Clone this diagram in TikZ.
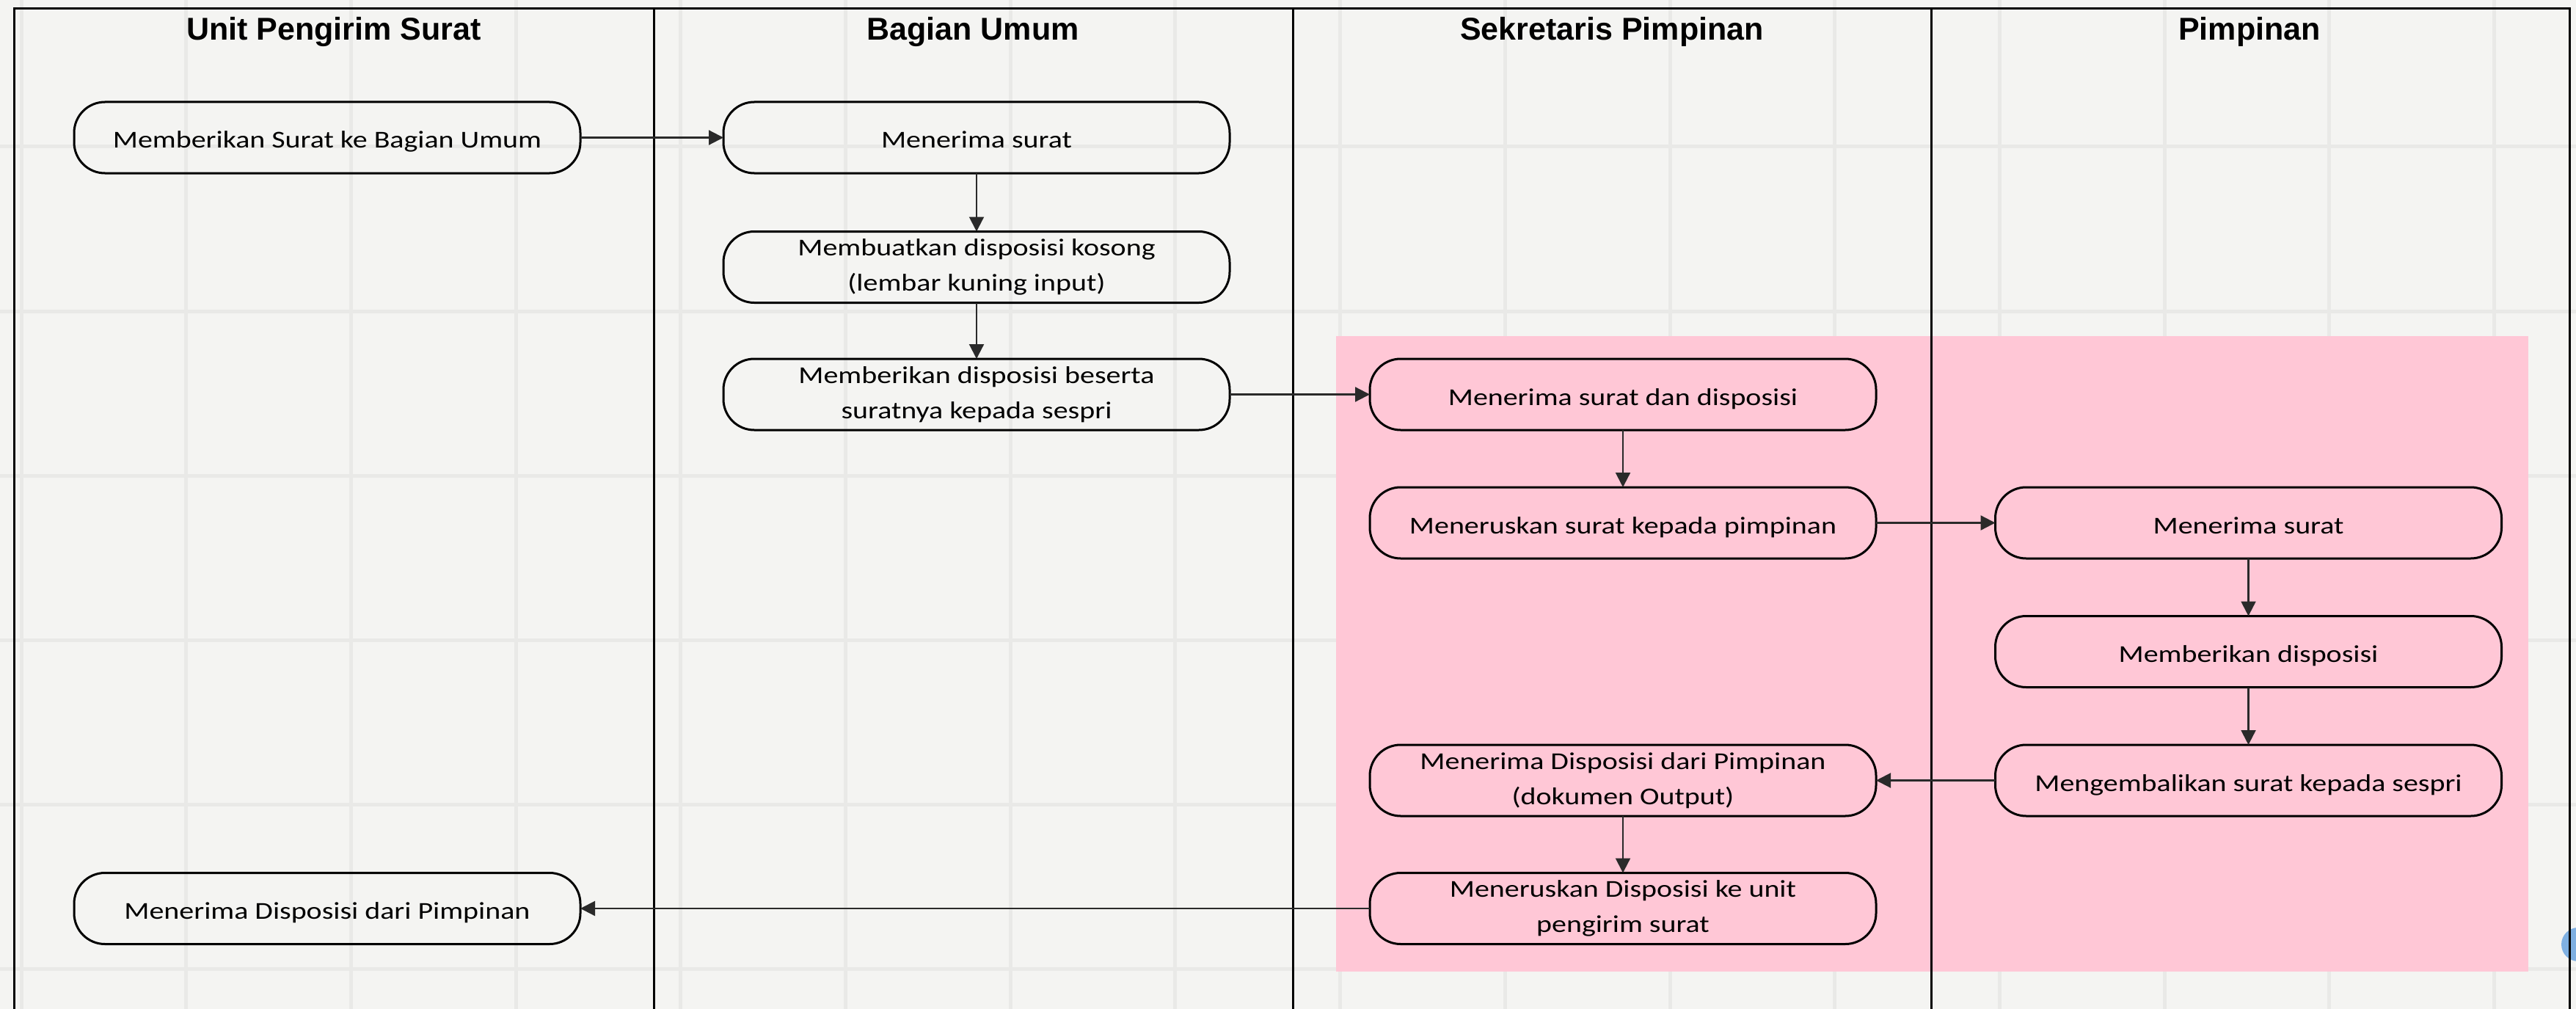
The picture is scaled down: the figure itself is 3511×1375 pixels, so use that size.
\documentclass[tikz,border=0pt]{standalone}
\usepackage{fontspec}
\newfontfamily\bodyfont{Carlito}[FakeStretch=1.21]
\newfontfamily\headfont{Liberation Sans}
\usetikzlibrary{arrows.meta}
\definecolor{bgcol}{HTML}{F4F4F2}
\definecolor{gridcol}{HTML}{E9E9E7}
\definecolor{pinkcol}{HTML}{FFC7D6}
\definecolor{blobcol}{HTML}{7FB0E2}
\definecolor{arrowcol}{HTML}{2A2A2A}
\tikzset{
  lane/.style={draw=black, line width=3pt},
  gridline/.style={draw=gridcol, line width=5pt},
  head/.style={font=\headfont\bfseries\fontsize{43}{50}\selectfont, anchor=base, inner sep=0pt},
  proc/.style={draw=black, line width=3pt, rounded corners=42pt, minimum width=690pt,
    minimum height=97pt, inner sep=0pt, outer sep=0pt, align=center,
    font=\bodyfont\fontsize{33}{48}\selectfont, text height=34pt, text depth=5pt},
  proctwo/.style={draw=black, line width=3pt, rounded corners=42pt, minimum width=690pt,
    minimum height=97pt, inner sep=0pt, outer sep=0pt, align=center,
    font=\bodyfont\fontsize{33}{48}\selectfont},
  flow/.style={draw=arrowcol, line width=2.2pt, -{Triangle[length=20pt,width=20pt]}}
}
\begin{document}
\begin{tikzpicture}[x=1pt,y=-1pt]
\useasboundingbox (0,0) rectangle (3511,1375);
% background
\fill[bgcol] (0,0) rectangle (3511,1375);
\foreach \k in {0,...,15} \draw[gridline] ({29+\k*224.7},0) -- ++(0,1375);
\foreach \k in {0,...,5} \draw[gridline] (0,{200+\k*224}) -- ++(3511,0);
% highlighted region
\fill[pinkcol] (1821,458) rectangle (3446,1324);
% partial blue marker at right edge
\fill[blobcol] (3514,1287) circle (23);
% swimlanes
\draw[lane] (19,1375) -- (19,12) -- (3502,12) -- (3502,1375);
\draw[lane] (891,12) -- (891,1375);
\draw[lane] (1762,12) -- (1762,1375);
\draw[lane] (2632,12) -- (2632,1375);
\node[head] (h1) at (455,55) {Unit Pengirim Surat};
\node[head] (h2) at (1326,55) {Bagian Umum};
\node[head] (h3) at (2197,55) {Sekretaris Pimpinan};
\node[head] (h4) at (3066,55) {Pimpinan};
% activities
\node[proc] (A1) at (446,187.5) {Memberikan Surat ke Bagian Umum};
\node[proc] (B1) at (1331,187.5) {Menerima surat};
\node[proctwo] (B2) at (1331,364) {Membuatkan disposisi kosong\\(lembar kuning input)};
\node[proctwo] (B3) at (1331,537.5) {Memberikan disposisi beserta\\suratnya kepada sespri};
\node[proc] (C3) at (2212,537.5) {Menerima surat dan disposisi};
\node[proc] (C4) at (2212,712.5) {Meneruskan surat kepada pimpinan};
\node[proc] (D4) at (3064.5,712.5) {Menerima surat};
\node[proc] (D5) at (3064.5,888) {Memberikan disposisi};
\node[proc] (D6) at (3064.5,1063.5) {Mengembalikan surat kepada sespri};
\node[proctwo] (C6) at (2212,1063.5) {Menerima Disposisi dari Pimpinan\\(dokumen Output)};
\node[proctwo] (C7) at (2212,1238) {Meneruskan Disposisi ke unit\\pengirim surat};
\node[proc] (A7) at (446,1238) {Menerima Disposisi dari Pimpinan};
% connectors
\draw[flow] (A1.east) -- (B1.west);
\draw[flow] (B1.south) -- (B2.north);
\draw[flow] (B2.south) -- (B3.north);
\draw[flow] (B3.east) -- (C3.west);
\draw[flow] (C3.south) -- (C4.north);
\draw[flow] (C4.east) -- (D4.west);
\draw[flow] (D4.south) -- (D5.north);
\draw[flow] (D5.south) -- (D6.north);
\draw[flow] (D6.west) -- (C6.east);
\draw[flow] (C6.south) -- (C7.north);
\draw[flow] (C7.west) -- (A7.east);
\end{tikzpicture}
\end{document}
